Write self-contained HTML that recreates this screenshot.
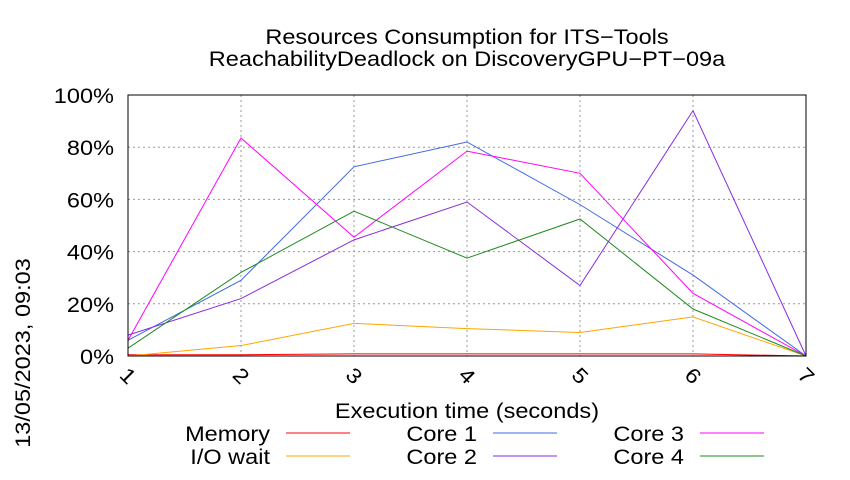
<!DOCTYPE html>
<html><head><meta charset="utf-8"><style>
body{margin:0;background:#fff;font-family:"Liberation Sans",sans-serif;}
svg text{font-family:"Liberation Sans",sans-serif;fill:#000;}
</style></head><body>
<svg id="chart" width="850" height="475" xmlns="http://www.w3.org/2000/svg">
<text class="st" x="467" y="44" font-size="21" text-anchor="middle">Resources Consumption for ITS−Tools</text>
<text class="st" x="467" y="66" font-size="21" text-anchor="middle">ReachabilityDeadlock on DiscoveryGPU−PT−09a</text>
<text class="st" transform="translate(30,353) rotate(-90)" font-size="21" text-anchor="middle">13/05/2023, 09:03</text>
<text class="st" x="467" y="418" font-size="21" text-anchor="middle">Execution time (seconds)</text>
<g id="grid"></g><g id="series"></g><g id="axes"></g><g id="legend"></g>
</svg>
<script>
const xTicks=[1,2,3,4,5,6,7];
const yTicks=[0,20,40,60,80,100];
const seriesNames=["Memory","I/O wait","Core 1","Core 2","Core 3","Core 4"];
const memory=[0.5,0.5,0.8,0.8,0.8,0.8,0];
const ioWait=[0,4,12.5,10.5,9,15,0];
const core1=[6,29,72.5,82,58,31,0];
const core2=[8,22,44.5,59,27,94,0];
const core3=[6,83.5,45.5,78.5,70,24,0];
const core4=[3,32,55.5,37.5,52.5,18,0];
const colors=["#ff0000","#ffa500","#4169e1","#8a2be2","#ff00ff","#228b22"];
const data=[memory,ioWait,core1,core2,core3,core4];
const L=128,R=806,T=95,B=356;
const xs=v=>L+(v-1)*(R-L)/6, ys=v=>B-v*(B-T)/100;
const NS="http://www.w3.org/2000/svg";
function mk(tag,attrs,parent){const e=document.createElementNS(NS,tag);for(const k in attrs)e.setAttribute(k,attrs[k]);document.getElementById(parent).appendChild(e);return e;}
xTicks.forEach(t=>{
 const g=mk("line",{x1:xs(t),x2:xs(t),y1:T,y2:B,stroke:"#999","stroke-dasharray":"2,3","stroke-width":1},"grid");
 
 
 const tx=mk("text",{class:"st",x:xs(t),y:B+27,"font-size":21,"text-anchor":"middle",transform:`rotate(45 ${xs(t)} ${B+20})`},"axes");
 tx.textContent=t;
 
 
});
yTicks.forEach(t=>{
 const g=mk("line",{x1:L,x2:R,y1:ys(t),y2:ys(t),stroke:"#999","stroke-dasharray":"2,3","stroke-width":1},"grid");
 
 
 const tx=mk("text",{class:"st",x:L-14,y:ys(t)+8,"font-size":21,"text-anchor":"end"},"axes");
 tx.textContent=t+"%";
 
 
});
const fr=mk("rect",{x:L,y:T,width:R-L,height:B-T,fill:"none",stroke:"#000","stroke-width":1},"axes");


data.forEach((d,i)=>{
 const p=mk("polyline",{points:d.map((v,j)=>xs(xTicks[j])+","+ys(v)).join(" "),fill:"none",stroke:colors[i],"stroke-width":1},"series");
 
 
 const col=Math.floor(i/2),row=i%2;
 const lx=[270,477,684][col], ly=[433,456][row];
 const t=mk("text",{class:"st",x:lx,y:ly+8,"font-size":21,"text-anchor":"end"},"legend");
 t.textContent=seriesNames[i];
 
 
 const ln=mk("line",{x1:lx+16,x2:lx+80,y1:ly,y2:ly,stroke:colors[i],"stroke-width":1},"legend");
 
 
});
document.querySelectorAll("text.st").forEach(t=>{
 const w=t.getComputedTextLength();
 if(w>0){t.setAttribute("textLength",(w*1.12).toFixed(1));t.setAttribute("lengthAdjust","spacingAndGlyphs");}
});
</script>
</body></html>
